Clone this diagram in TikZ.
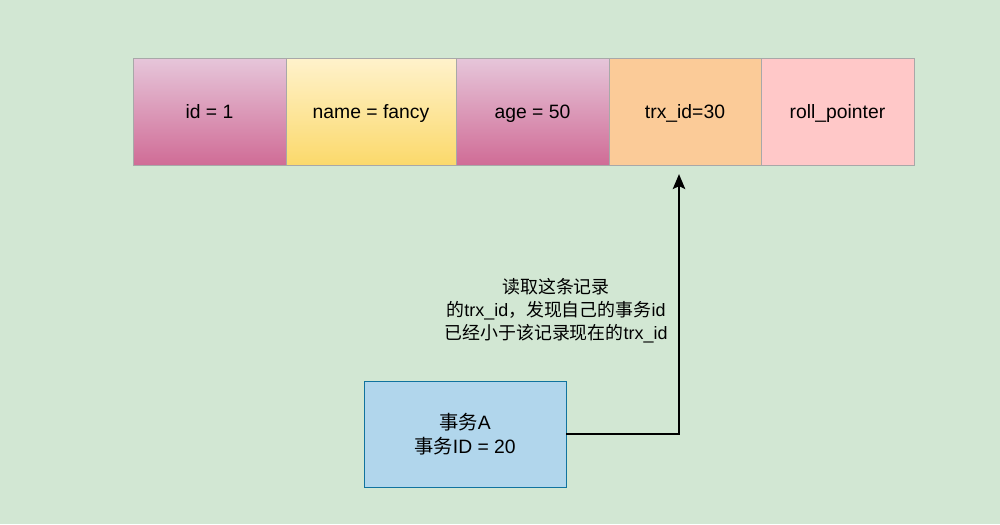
\documentclass[tikz,border=0pt]{standalone}
\usepackage{fontspec}
\setmainfont{Liberation Sans}
\newfontfamily\cjk{Noto Sans CJK SC}
\usetikzlibrary{arrows.meta}
\definecolor{bggreen}{HTML}{D2E7D3}
\definecolor{pinktop}{HTML}{E6C6DA}
\definecolor{pinkbot}{HTML}{D06C96}
\definecolor{yeltop}{HTML}{FFF2CC}
\definecolor{yelbot}{HTML}{FBD96B}
\definecolor{orangefill}{HTML}{FBCB98}
\definecolor{rosefill}{HTML}{FFC8C8}
\definecolor{cellline}{HTML}{A8A8A8}
\definecolor{bluefill}{HTML}{B1D6EC}
\definecolor{blueline}{HTML}{10739E}
\tikzset{
    cell/.style={draw=cellline,rectangle,inner sep=0pt,minimum height=2.14cm,
        text depth=0pt,font=\fontsize{11pt}{13pt}\selectfont},
    pinkcell/.style={cell,top color=pinktop,bottom color=pinkbot},
}
\begin{document}
\begin{tikzpicture}[x=0.02cm,y=-0.02cm]
        %% Background
        \fill[bggreen] (0,0) rectangle (1000,524);
        \useasboundingbox (0,0) rectangle (1000,524);
        %% Record
        \node[pinkcell,minimum width=3.06cm] (id) at (209.5,111.5) {id = 1};
        \node[cell,top color=yeltop,bottom color=yelbot,minimum width=3.4cm]
            (name) at (371,111.5) {name = fancy};
        \node[pinkcell,minimum width=3.06cm] (age) at (532.5,111.5) {age = 50};
        \node[cell,fill=orangefill,minimum width=3.04cm]
            (trx) at (685,111.5) {trx\_id=30};
        \node[cell,fill=rosefill,minimum width=3.06cm]
            (roll) at (837.5,111.5) {roll\_pointer};
        %% Transaction
        \node[draw=blueline,fill=bluefill,rectangle,minimum width=4.04cm,
            minimum height=2.12cm,align=center,
            font=\fontsize{11pt}{13.5pt}\selectfont]
            (txA) at (465,434) {{\cjk 事务}A\\{\cjk 事务}ID = 20};
        %% Arrow
        \draw[line width=1.1pt,-{Stealth[length=0.3cm,width=0.25cm,inset=0.06cm]},
            shorten >=5pt]
            (txA.east) -| ([xshift=-0.12cm]trx.south);
        \node[align=center,font=\fontsize{10.2pt}{13pt}\selectfont]
            (read) at (556,311)
            {{\cjk 读取这条记录}\\
             {\cjk 的}trx\_id{\cjk ，发现自己的事务}id\\
             {\cjk 已经小于该记录现在的}trx\_id};
    \end{tikzpicture}
\end{document}
